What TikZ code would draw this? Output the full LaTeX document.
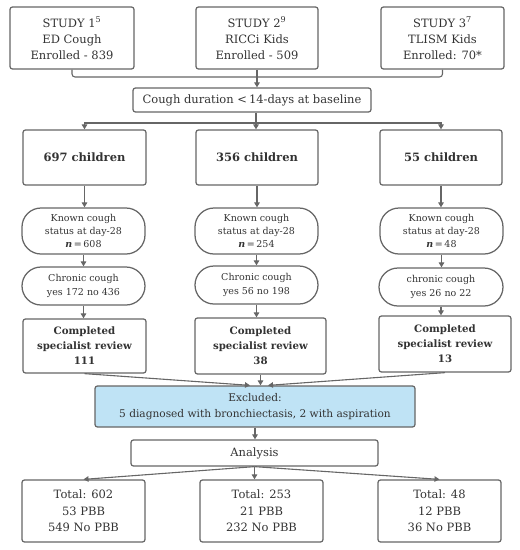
\documentclass[tikz,border=0pt]{standalone}
\usepackage{fontspec}
\setmainfont{DejaVu Serif}
\usetikzlibrary{arrows.meta}
\definecolor{edge}{HTML}{666666}
\definecolor{txt}{HTML}{333333}
\definecolor{exblue}{HTML}{BFE3F5}
\tikzset{
  box/.style={draw=edge, line width=1.25pt, rounded corners=2.5pt, align=center, text=txt, inner sep=1pt},
  pill/.style={box, rounded corners=19pt},
  conn/.style={draw=edge, line width=1.1pt},
  arr/.style={conn, -{Triangle[length=5pt,width=5.5pt]}},
  topf/.style={font=\fontsize{11.5}{16}\selectfont},
  smallf/.style={font=\fontsize{9.5}{13.3}\selectfont},
  boldf/.style={font=\fontsize{11.5}{15}\selectfont\bfseries},
  revf/.style={font=\fontsize{10.2}{15}\selectfont\bfseries},
  totf/.style={font=\fontsize{11.5}{16.7}\selectfont},
}
\begin{document}
\begin{tikzpicture}[x=1pt,y=-1pt]
\useasboundingbox (0,0) rectangle (520,550);
% top study boxes
\node[box,topf,minimum width=124pt,minimum height=62pt] (s1) at (72,38) {STUDY 1\textsuperscript{5}\\ED Cough\\Enrolled - 839};
\node[box,topf,minimum width=122pt,minimum height=62pt] (s2) at (257,38) {STUDY 2\textsuperscript{9}\\RICCi Kids\\Enrolled - 509};
\node[box,topf,minimum width=123pt,minimum height=62pt] (s3) at (442.5,38) {STUDY 3\textsuperscript{7}\\TLISM Kids\\Enrolled: 70*};
\coordinate (tj) at (257,77);
\node[box,topf,minimum width=238pt,minimum height=24pt] (dur) at (252,100) {Cough duration <\,14-days at baseline};
\coordinate (sp) at (256,123);
% children
\node[box,boldf,minimum width=123pt,minimum height=55pt] (c1) at (84.5,157.5) {697 children};
\node[box,boldf,minimum width=122pt,minimum height=55pt] (c2) at (257,157.5) {356 children};
\node[box,boldf,minimum width=122pt,minimum height=55pt] (c3) at (441,157.5) {55 children};
% known status
\node[pill,smallf,minimum width=123pt,minimum height=46pt] (k1) at (83.5,231) {Known cough\\status at day-28\\\textbf{\textit{n}}\,=\,608};
\node[pill,smallf,minimum width=123pt,minimum height=46pt] (k2) at (256.5,231) {Known cough\\status at day-28\\\textbf{\textit{n}}\,=\,254};
\node[pill,smallf,minimum width=123pt,minimum height=46pt] (k3) at (441.5,231) {Known cough\\status at day-28\\\textbf{\textit{n}}\,=\,48};
% chronic
\node[pill,smallf,minimum width=123pt,minimum height=38pt] (h1) at (83.5,286) {Chronic cough\\yes 172 no 436};
\node[pill,smallf,minimum width=123pt,minimum height=38pt] (h2) at (256.5,285) {Chronic cough\\yes 56 no 198};
\node[pill,smallf,minimum width=124pt,minimum height=38pt] (h3) at (441,287) {chronic cough\\yes 26 no 22};
% review
\node[box,revf,minimum width=123pt,minimum height=54pt] (r1) at (84.5,346) {Completed\\specialist review\\111};
\node[box,revf,minimum width=131pt,minimum height=56pt] (r2) at (260.5,346) {Completed\\specialist review\\38};
\node[box,revf,minimum width=132pt,minimum height=56pt] (r3) at (445,344) {Completed\\specialist review\\13};
% excluded
\node[box,fill=exblue,font=\fontsize{10.6}{16}\selectfont,minimum width=320pt,minimum height=41pt] (ex) at (255,406.5) {Excluded:\\5 diagnosed with bronchiectasis, 2 with aspiration};
\node[box,topf,minimum width=247pt,minimum height=26pt] (an) at (254.5,453) {Analysis};
% totals
\node[box,totf,minimum width=123pt,minimum height=62pt] (t1) at (83.5,511) {Total: 602\\53 PBB\\549 No PBB};
\node[box,totf,minimum width=123pt,minimum height=62pt] (t2) at (261.5,511) {Total: 253\\21 PBB\\232 No PBB};
\node[box,totf,minimum width=123pt,minimum height=62pt] (t3) at (439.5,511) {Total: 48\\12 PBB\\36 No PBB};
% connectors
\draw[conn, rounded corners=3pt] (s1.south) |- (tj) -| (s3.south);
\draw[arr] (s2.south) -- (s2.south |- dur.north);
\draw[conn] (sp |- dur.south) -- (sp);
\draw[arr] (sp) -| (c1.north);
\draw[arr] (sp) -- (sp |- c2.north);
\draw[arr] (sp) -| (c3.north);
\foreach \i in {1,2,3}{
  \draw[arr] (c\i.south) -- (c\i.south |- k\i.north);
  \draw[arr] (k\i.south) -- (k\i.south |- h\i.north);
  \draw[arr] (h\i.south) -- (h\i.south |- r\i.north);
}
\draw[arr] (r1.south) -- ([xshift=-5pt]ex.north);
\draw[arr] (r2.south) -- (r2.south |- ex.north);
\draw[arr] (r3.south) -- ([xshift=13pt]ex.north);
\draw[arr] (ex.south) -- (ex.south |- an.north);
\draw[arr] (an.south) -- (t1.north);
\draw[arr] (an.south) -- (an.south |- t2.north);
\draw[arr] (an.south) -- (t3.north);
\end{tikzpicture}
\end{document}
